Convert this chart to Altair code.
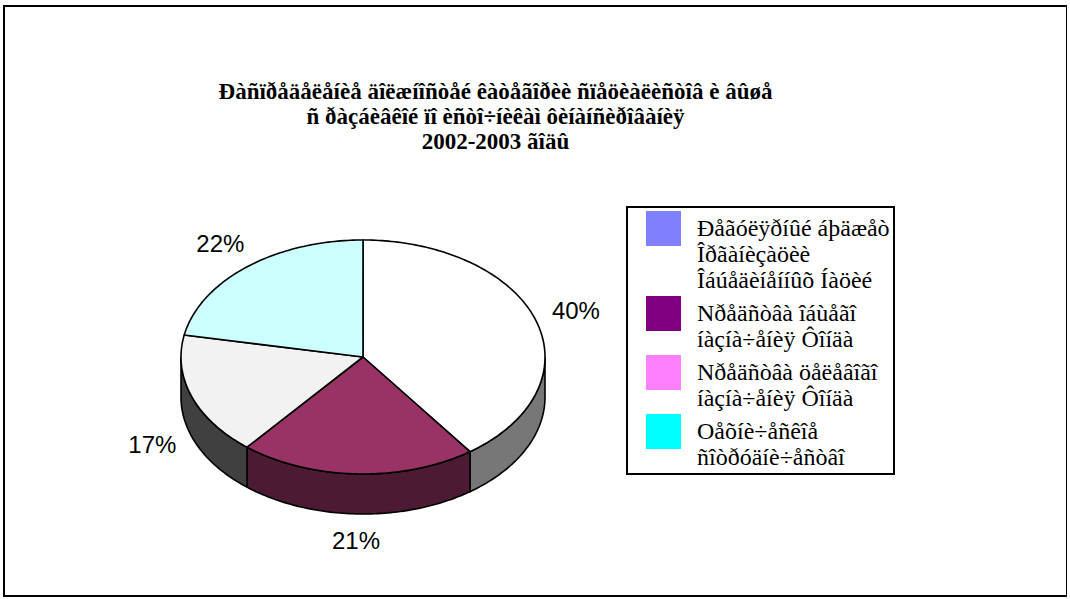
import math
import altair as alt
import pandas as pd

# ---------------- data ----------------
title_lines = [
    "Ðàñïðåäåëåíèå äîëæíîñòåé êàòåãîðèè ñïåöèàëèñòîâ è âûøå",
    "ñ ðàçáèâêîé ïî èñòî÷íèêàì ôèíàíñèðîâàíèÿ",
    "2002-2003 ãîäû",
]
legend_labels = [
    "Ðåãóëÿðíûé áþäæåò|Îðãàíèçàöèè|Îáúåäèíåííûõ Íàöèé",
    "Nðåäñòâà îáùåãî|íàçíà÷åíèÿ Ôîíäà",
    "Nðåäñòâà öåëåâîãî|íàçíà÷åíèÿ Ôîíäà",
    "Oåõíè÷åñêîå|ñîòðóäíè÷åñòâî",
]
legend_colors = ["#8080FF", "#800080", "#FF80FF", "#00FFFF"]
shares = [40, 21, 17, 22]
pct_labels = ["40%", "21%", "17%", "22%"]
top_colors = ["#FFFFFF", "#993366", "#F2F2F2", "#CCFFFF"]
side_colors = ["#777777", "#4D1A33", "#404040", "#8CB3B3"]

# ---------------- layout (pixels) ----------------
W, H = 1063, 590
X0, Y0 = 4, 6
CX, CY = 363, 357
RX, RY = 182, 117
DEPTH = 40


def pt(deg, dy=0.0):
    r = math.radians(deg)
    return CX + RX * math.sin(r), CY - RY * math.cos(r) + dy


def arc(a0, a1, dy=0.0):
    n = max(2, int(abs(a1 - a0)) + 1)
    return [pt(a0 + (a1 - a0) * i / (n - 1), dy) for i in range(n)]


total = float(sum(shares))
bounds = []
acc = 0.0
for s in shares:
    a0 = acc / total * 360
    acc += s
    bounds.append((a0, acc / total * 360))

top_rows, side_rows, lab_rows = [], [], []
for i, (a0, a1) in enumerate(bounds):
    pts = [(CX, CY)] + arc(a0, a1) + [(CX, CY)]
    for k, (x, y) in enumerate(pts):
        top_rows.append({"pid": i, "k": k, "x": x, "y": y, "fill": top_colors[i]})
    lo, hi = max(a0, 90), min(a1, 270)
    if lo < hi:
        spts = arc(lo, hi) + arc(hi, lo, DEPTH)
        spts.append(spts[0])
        for k, (x, y) in enumerate(spts):
            side_rows.append({"pid": i, "k": k, "x": x, "y": y, "fill": side_colors[i]})
    mid = math.radians((a0 + a1) / 2)
    lx = CX + RX * 1.23 * math.sin(mid)
    ly = CY - RY * 1.24 * math.cos(mid) + (DEPTH if math.cos(mid) < 0 else 0)
    lab_rows.append({"x": lx, "y": ly, "t": pct_labels[i]})

top_df = pd.DataFrame(top_rows)
side_df = pd.DataFrame(side_rows)
lab_df = pd.DataFrame(lab_rows)
leg_df = pd.DataFrame({"lab": legend_labels})

xs = alt.Scale(domain=[X0, X0 + W], nice=False, zero=False)
ys = alt.Scale(domain=[Y0, Y0 + H], nice=False, zero=False, reverse=True)


def poly(df):
    return alt.Chart(df).mark_line(
        stroke="black", strokeWidth=1.6, strokeJoin="round"
    ).encode(
        x=alt.X("x:Q", scale=xs, axis=None),
        y=alt.Y("y:Q", scale=ys, axis=None),
        detail="pid:N",
        order="k:Q",
        fill=alt.Fill("fill:N", scale=None),
    )


labels = alt.Chart(lab_df).mark_text(
    font="Liberation Sans", fontSize=24, color="black"
).encode(
    x=alt.X("x:Q", scale=xs, axis=None),
    y=alt.Y("y:Q", scale=ys, axis=None),
    text="t:N",
)

pad = "\u2002\u2002\u2009"
legend_layer = alt.Chart(leg_df).mark_square().transform_filter("false").encode(
    color=alt.Color(
        "lab:N",
        scale=alt.Scale(domain=legend_labels, range=legend_colors),
        legend=alt.Legend(
            title=None,
            orient="none",
            legendX=623,
            legendY=201,
            direction="vertical",
            strokeColor="black",
            fillColor="white",
            padding=4,
            symbolType="square",
            symbolSize=1225,
            symbolStrokeWidth=0,
            symbolOffset=15,
            symbolOpacity=1,
            labelFont="Liberation Serif",
            labelFontSize=24,
            labelColor="black",
            labelLimit=500,
            labelOffset=16,
            labelExpr="split(replace(datum.label, '|', '" + pad + "|'), '|')",
            rowPadding=3,
        ),
    )
)

chart = alt.layer(poly(side_df), poly(top_df), labels, legend_layer).properties(
    width=W,
    height=H,
    padding={"left": X0, "top": Y0, "right": 0, "bottom": 3},
    autosize="none",
    title=alt.TitleParams(
        text=title_lines,
        font="Liberation Serif",
        fontSize=23,
        fontWeight="bold",
        color="black",
        lineHeight=25,
        anchor="middle",
        orient="top",
        offset=-148,
        dx=-40,
    ),
).configure_view(stroke="black", strokeWidth=2).configure_legend(strokeWidth=2)

chart.save("out.html", embed_options={"renderer": "svg", "actions": False})
